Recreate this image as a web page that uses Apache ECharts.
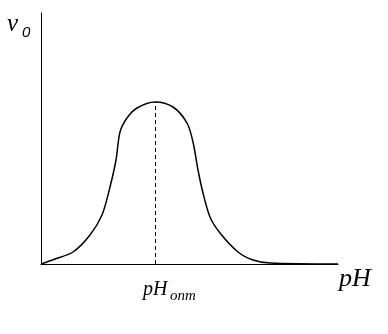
<!DOCTYPE html>
<html><head><meta charset="utf-8">
<script src="https://cdn.jsdelivr.net/npm/echarts@6/dist/echarts.min.js"></script>
<style>html,body{margin:0;padding:0;background:#fff}#c{width:388px;height:334px}</style>
</head><body><div id="c"></div>
<script>
// pH (arbitrary units along axis) and initial rate v0 (arbitrary units)
const phValues = [0, 14, 32, 49, 61, 69, 75, 79, 86, 96, 114, 132, 146, 152, 157, 162, 169, 179, 197, 212, 229, 297];
const v0Values = [0, 5, 12, 29, 49, 77, 104, 132, 146, 156, 162, 157, 141, 122, 94, 71, 47, 31, 12, 4, 1, 0];
const phOpt = 114;
const vMax = 162;
const xMax = 297, yMax = 251;

const serif = '"Liberation Serif", "Times New Roman", serif';
const chart = echarts.init(document.getElementById('c'), null, {renderer: 'canvas'});
chart.setOption({
  animation: false,
  grid: {left: 41, top: 13, right: 50, bottom: 70, containLabel: false},
  xAxis: {type: 'value', min: 0, max: xMax, axisLine: {lineStyle: {color: '#000', width: 1}},
    axisTick: {show: false}, axisLabel: {show: false}, splitLine: {show: false}},
  yAxis: {type: 'value', min: 0, max: yMax, axisLine: {show: true, lineStyle: {color: '#000', width: 1}},
    axisTick: {show: false}, axisLabel: {show: false}, splitLine: {show: false}},
  series: [{
    type: 'line', smooth: 0.3, symbol: 'none',
    data: phValues.map((x, i) => [x, v0Values[i]]),
    lineStyle: {color: '#000', width: 1.5},
    markLine: {silent: true, symbol: 'none', label: {show: false},
      lineStyle: {color: '#000', type: [4, 3], width: 1},
      data: [[{coord: [phOpt, 0]}, {coord: [phOpt, vMax]}]]}
  }],
  graphic: [
    {type: 'text', left: 7, top: 12, style: {text: 'v', font: 'italic 25px ' + serif, fill: '#000'}},
    {type: 'text', left: 22, top: 25, style: {text: '0', font: 'italic 15px "Liberation Sans", Arial, sans-serif', fill: '#000'}},
    {type: 'text', left: 339, top: 266, style: {text: 'pH', font: 'italic 26px ' + serif, fill: '#000'}},
    {type: 'text', left: 143, top: 280, style: {text: 'pH', font: 'italic 20px ' + serif, fill: '#000'}},
    {type: 'text', left: 170, top: 289, style: {text: 'опт', font: 'italic 15px ' + serif, fill: '#000'}}
  ]
});
</script></body></html>
